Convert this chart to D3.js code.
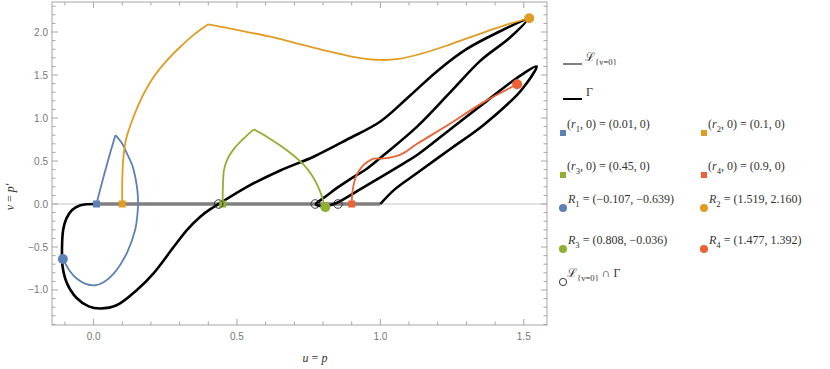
<!DOCTYPE html>
<html>
<head>
<meta charset="utf-8">
<script src="https://cdn.jsdelivr.net/npm/d3@7"></script>
<style>
  body { margin: 0; background: #fff; }
  svg { display: block; }
</style>
</head>
<body>
<div id="graphArea"></div>
<script>
// ---- data ----
var xTicks = [0, 0.5, 1.0, 1.5];
var yTicks = [-1.0, -0.5, 0.0, 0.5, 1.0, 1.5, 2.0];

// starting points (r_i, 0) and end points R_i
var seeds = [0.01, 0.1, 0.45, 0.9];
var endU = [-0.107, 1.519, 0.808, 1.477];
var endV = [-0.639, 2.160, -0.036, 1.392];

// intersections of L_{v=0} with Gamma
var crossings = [0.436, 0.773, 0.852];

// Gamma (black)
var gammaTrack = [[0.02, 0], [-0.02, -0.002], [-0.046, -0.015], [-0.075, -0.07], [-0.095, -0.17],
  [-0.106, -0.3], [-0.11, -0.5], [-0.108, -0.73], [-0.093, -0.92], [-0.06, -1.09], [-0.017, -1.19],
  [0.023, -1.215], [0.082, -1.175], [0.151, -1.0], [0.209, -0.806], [0.279, -0.5], [0.326, -0.3],
  [0.372, -0.147], [0.407, -0.06], [0.436, 0], [0.535, 0.2], [0.651, 0.39], [0.767, 0.55],
  [0.884, 0.75], [1.0, 0.96], [1.1, 1.25], [1.2, 1.55], [1.3, 1.8], [1.4, 1.98], [1.51, 2.14],
  [1.45, 1.93], [1.35, 1.67], [1.244, 1.3], [1.128, 0.9], [1.012, 0.57], [0.953, 0.41],
  [0.895, 0.29], [0.85, 0.19], [0.81, 0.09], [0.785, 0.03], [0.775, 0.0], [0.785, -0.02],
  [0.815, -0.02], [0.849, 0.015], [0.919, 0.15], [1.0, 0.31], [1.07, 0.45], [1.128, 0.57],
  [1.244, 0.87], [1.36, 1.17], [1.453, 1.41], [1.5, 1.52], [1.545, 1.6], [1.53, 1.5],
  [1.5, 1.36], [1.477, 1.27], [1.36, 0.92], [1.244, 0.64], [1.128, 0.36], [1.05, 0.17], [1.0, 0.0]];

// trajectories from (r_i, 0) to R_i, split at their corners
var blueTrack = [
  [[0.01, 0], [0.02, 0.13], [0.035, 0.32], [0.055, 0.56], [0.076, 0.80]],
  [[0.076, 0.80], [0.1, 0.7], [0.116, 0.59], [0.135, 0.45], [0.145, 0.32], [0.153, 0.15], [0.155, 0.0],
   [0.152, -0.15], [0.145, -0.3], [0.116, -0.57], [0.07, -0.81], [0.035, -0.91], [0.006, -0.945],
   [-0.03, -0.925], [-0.058, -0.87], [-0.085, -0.77], [-0.107, -0.639]]
];
var orangeTrack = [
  [[0.1, 0], [0.1, 0.25], [0.103, 0.5], [0.113, 0.75], [0.14, 1.02], [0.17, 1.25], [0.21, 1.48],
   [0.256, 1.67], [0.3, 1.82], [0.35, 1.97], [0.4, 2.09]],
  [[0.4, 2.09], [0.5, 2.025], [0.616, 1.945], [0.7, 1.875], [0.8, 1.79], [0.9, 1.715], [1.0, 1.675],
   [1.07, 1.69], [1.14, 1.745], [1.23, 1.84], [1.314, 1.94], [1.43, 2.075], [1.519, 2.16]]
];
var greenTrack = [
  [[0.45, 0], [0.451, 0.2], [0.455, 0.4], [0.468, 0.53], [0.488, 0.635], [0.52, 0.75], [0.558, 0.868]],
  [[0.558, 0.868], [0.605, 0.78], [0.651, 0.68], [0.695, 0.57], [0.733, 0.455], [0.76, 0.34],
   [0.78, 0.22], [0.795, 0.1], [0.804, 0.0], [0.808, -0.036]]
];
var redTrack = [
  [[0.9, 0], [0.903, 0.15], [0.915, 0.32], [0.94, 0.45], [0.977, 0.53]],
  [[0.977, 0.53], [1.012, 0.53], [1.07, 0.575], [1.128, 0.7], [1.244, 0.935], [1.36, 1.185], [1.477, 1.392]]
];

var colors = ["#5E81B5", "#E19C24", "#8FB032", "#EB6235"];
var tracks = [blueTrack, orangeTrack, greenTrack, redTrack];

var seedLabels = ["0.01", "0.1", "0.45", "0.9"];
var endLabels = ["(\u22120.107, \u22120.639)", "(1.519, 2.160)", "(0.808, \u22120.036)", "(1.477, 1.392)"];

// ---- layout ----
var W = 830, H = 369;
var mLeft = 52, mRight = 547, mTop = 2, mBottom = 325;
var serif = "Liberation Serif, Times New Roman, DejaVu Serif, serif";
var sans = "Liberation Sans, Arial, sans-serif";

var svg = d3.select("#graphArea").append("svg")
  .attr("width", W).attr("height", H);

var x = d3.scaleLinear().domain([-0.145, 1.581]).range([mLeft, mRight]);
var y = d3.scaleLinear().domain([-1.407, 2.349]).range([mBottom, mTop]);

// zero line
svg.append("line")
  .attr("x1", mLeft).attr("x2", mRight)
  .attr("y1", y(0)).attr("y2", y(0))
  .attr("stroke", "#c4c4c4").attr("stroke-width", 1);

// L_{v=0}
svg.append("line")
  .attr("x1", x(0)).attr("x2", x(1))
  .attr("y1", y(0)).attr("y2", y(0))
  .attr("stroke", "#7f7f7f").attr("stroke-width", 3.5);

var line = d3.line()
  .x(function(d) { return x(d[0]); })
  .y(function(d) { return y(d[1]); })
  .curve(d3.curveCatmullRom.alpha(0.5));

// Gamma
svg.append("path")
  .attr("d", line(gammaTrack))
  .attr("fill", "none").attr("stroke", "#000").attr("stroke-width", 2.6)
  .attr("stroke-linejoin", "round");

// coloured trajectories
tracks.forEach(function(tr, i) {
  tr.forEach(function(seg) {
    svg.append("path")
      .attr("d", line(seg))
      .attr("fill", "none").attr("stroke", colors[i]).attr("stroke-width", 1.8);
  });
});

// start squares
svg.selectAll("rect.seed")
  .data(seeds)
  .enter().append("rect")
  .attr("x", function(d) { return x(d) - 3.5; })
  .attr("y", y(0) - 3.5)
  .attr("width", 7).attr("height", 7)
  .attr("fill", function(d, i) { return colors[i]; });

// intersection circles
svg.selectAll("circle.cross")
  .data(crossings)
  .enter().append("circle")
  .attr("cx", function(d) { return x(d); })
  .attr("cy", y(0))
  .attr("r", 4.3)
  .attr("fill", "none").attr("stroke", "#222").attr("stroke-width", 0.9);

// end dots
svg.selectAll("circle.end")
  .data(endU)
  .enter().append("circle")
  .attr("cx", function(d) { return x(d); })
  .attr("cy", function(d, i) { return y(endV[i]); })
  .attr("r", 5)
  .attr("fill", function(d, i) { return colors[i]; });

// frame + ticks (mathematica style, ticks inward on all four sides)
var frameCol = "#a6a6a6";
svg.append("rect")
  .attr("x", mLeft).attr("y", mTop)
  .attr("width", mRight - mLeft).attr("height", mBottom - mTop)
  .attr("fill", "none").attr("stroke", frameCol).attr("stroke-width", 1);

var xMinor = d3.range(-1, 16).map(function(k) { return k / 10; });
var yMinor = d3.range(-14, 24).map(function(k) { return k / 10; });
function isMajor(v) { return Math.abs(v * 2 - Math.round(v * 2)) < 1e-6; }

xMinor.forEach(function(v) {
  var len = isMajor(v) ? 6 : 3.5;
  svg.append("line").attr("x1", x(v)).attr("x2", x(v)).attr("y1", mBottom).attr("y2", mBottom - len)
    .attr("stroke", frameCol);
  svg.append("line").attr("x1", x(v)).attr("x2", x(v)).attr("y1", mTop).attr("y2", mTop + len)
    .attr("stroke", frameCol);
});
yMinor.forEach(function(v) {
  var len = isMajor(v) ? 6 : 3.5;
  svg.append("line").attr("y1", y(v)).attr("y2", y(v)).attr("x1", mLeft).attr("x2", mLeft + len)
    .attr("stroke", frameCol);
  svg.append("line").attr("y1", y(v)).attr("y2", y(v)).attr("x1", mRight).attr("x2", mRight - len)
    .attr("stroke", frameCol);
});

svg.selectAll("text.xt")
  .data(xTicks)
  .enter().append("text")
  .attr("x", function(d) { return x(d); })
  .attr("y", mBottom + 15)
  .attr("text-anchor", "middle")
  .attr("font-family", sans).attr("font-size", 10).attr("fill", "#777")
  .text(function(d) { return d3.format(".1f")(d); });

svg.selectAll("text.yt")
  .data(yTicks)
  .enter().append("text")
  .attr("x", mLeft - 4)
  .attr("y", function(d) { return y(d) + 3.5; })
  .attr("text-anchor", "end")
  .attr("font-family", sans).attr("font-size", 10).attr("fill", "#777")
  .text(function(d) { return d3.format(".1f")(d).replace("-", "\u2212"); });

// math text helper: parts = [text, style] with style "" / "i" italic / "s" subscript
function mathText(g, px, py, parts, size, anchor) {
  var t = g.append("text").attr("x", px).attr("y", py)
    .style("font-family", serif).attr("font-size", size).attr("fill", "#333")
    .attr("text-anchor", anchor || "start");
  var cur = 0;
  parts.forEach(function(p) {
    var sub = p[1].indexOf("s") >= 0;
    var shift = sub ? size * 0.32 : 0;
    t.append("tspan")
      .attr("dy", shift - cur)
      .style("font-family", serif)
      .attr("font-style", p[1].indexOf("i") >= 0 ? "italic" : "normal")
      .attr("font-size", sub ? size * 0.72 : size)
      .text(p[0]);
    cur = shift;
  });
  return t;
}

// axis labels
mathText(svg, 315, 362, [["u", "i"], [" = ", ""], ["p", "i"]], 12, "middle");
var yl = svg.append("g").attr("transform", "translate(14,197) rotate(-90)");
mathText(yl, 0, 0, [["v", "i"], [" = ", ""], ["p\u2032", "i"]], 12, "middle");

// ---- legend ----
var lg = svg.append("g");
var fs = 12;
lg.append("line").attr("x1", 563).attr("x2", 582).attr("y1", 64).attr("y2", 64)
  .attr("stroke", "#7f7f7f").attr("stroke-width", 2);
mathText(lg, 585, 61, [["\u2112", ""], ["{v=0}", "s"]], fs);
lg.append("line").attr("x1", 563).attr("x2", 582).attr("y1", 99).attr("y2", 99)
  .attr("stroke", "#000").attr("stroke-width", 2);
mathText(lg, 586, 96, [["\u0393", ""]], fs);

var colX = [563, 704];
var seedRowY = [133, 175];
var endRowY = [208, 249];
seeds.forEach(function(s, i) {
  var cx = colX[i % 2], cy = seedRowY[Math.floor(i / 2)];
  lg.append("rect").attr("x", cx - 3).attr("y", cy - 3).attr("width", 6).attr("height", 6)
    .attr("fill", colors[i]);
  mathText(lg, cx + 4, cy - 5, [["(", ""], ["r", "i"], [String(i + 1), "s"],
    [", 0) = (" + seedLabels[i] + ", 0)", ""]], fs);
});
endLabels.forEach(function(lab, i) {
  var cx = colX[i % 2], cy = endRowY[Math.floor(i / 2)];
  lg.append("circle").attr("cx", cx).attr("cy", cy).attr("r", 4).attr("fill", colors[i]);
  mathText(lg, cx + 5, cy - 5, [["R", "i"], [String(i + 1), "s"], [" = " + lab, ""]], fs);
});
lg.append("circle").attr("cx", 563).attr("cy", 282).attr("r", 3.6)
  .attr("fill", "none").attr("stroke", "#222").attr("stroke-width", 0.9);
mathText(lg, 567, 277, [["\u2112", ""], ["{v=0}", "s"], [" \u2229 \u0393", ""]], fs);
</script>
</body>
</html>
